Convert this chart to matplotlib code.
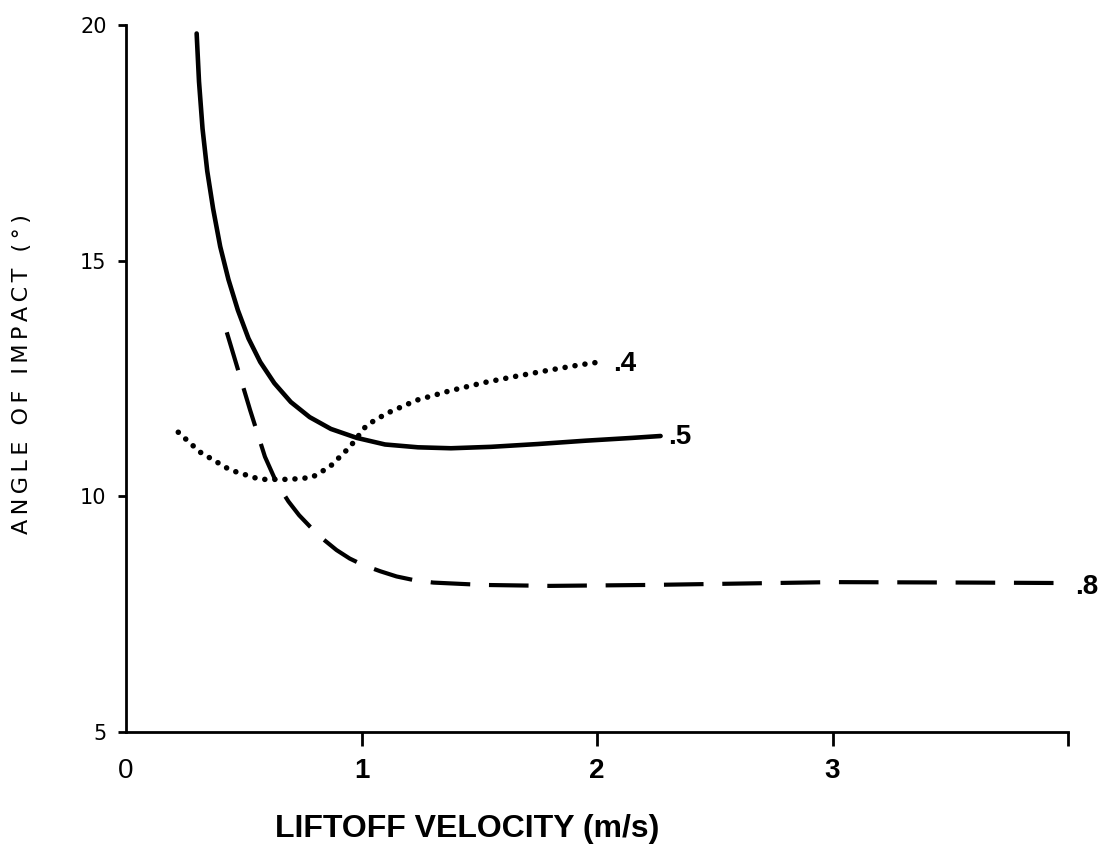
import matplotlib
matplotlib.use("Agg")
import matplotlib.pyplot as plt

# curve readings (liftoff velocity m/s, angle of impact deg)
x_05 = [0.300, 0.310, 0.325, 0.345, 0.370, 0.400, 0.435, 0.475, 0.52, 0.57, 0.63, 0.70, 0.78,
        0.87, 0.98, 1.10, 1.24, 1.38, 1.55, 1.75, 1.95, 2.15, 2.27]
y_05 = [19.82, 18.8, 17.8, 16.9, 16.1, 15.3, 14.6, 13.95, 13.35, 12.85, 12.4, 12.0, 11.68,
        11.43, 11.24, 11.1, 11.04, 11.02, 11.05, 11.11, 11.18, 11.24, 11.28]

x_04 = [0.222, 0.314, 0.442, 0.569, 0.696, 0.789, 0.866, 0.951, 1.022, 1.107, 1.234, 1.376,
        1.517, 1.659, 1.80, 1.928, 2.025]
y_04 = [11.36, 10.94, 10.56, 10.36, 10.36, 10.40, 10.63, 11.05, 11.51, 11.76, 12.04, 12.24,
        12.41, 12.55, 12.68, 12.79, 12.86]

x_08 = [0.428, 0.527, 0.59, 0.64, 0.69, 0.735, 0.781, 0.84, 0.894, 0.95, 1.008, 1.08, 1.149,
        1.225, 1.305, 1.517, 1.80, 2.225, 3.0, 3.6, 4.0]
y_08 = [13.48, 11.83, 10.84, 10.28, 9.89, 9.6, 9.36, 9.08, 8.86, 8.68, 8.54, 8.41, 8.30,
        8.22, 8.17, 8.12, 8.10, 8.12, 8.18, 8.17, 8.16]

curve_labels = [".4", ".5", ".8"]
label_x = [2.07, 2.30, 4.03]
label_y = [12.81, 11.26, 8.08]

x_ticks = [0, 1, 2, 3, 4]
x_ticklabels = ["0", "1", "2", "3", ""]
y_ticks = [5, 10, 15, 20]

fig = plt.figure(figsize=(11.07, 8.5), dpi=100)
ax = fig.add_axes([126 / 1107, 118 / 850, 942 / 1107, 707 / 850])

ax.plot(x_05, y_05, color="black", lw=3.3, solid_capstyle="round", solid_joinstyle="round")
ax.plot(x_04, y_04, color="black", lw=4.0, linestyle=(0, (0.01, 1.8)), dash_capstyle="round")
ax.plot(x_08, y_08, color="black", lw=3.0, linestyle=(0, (9.5, 4.5)), dash_capstyle="butt")

for txt, lx, ly in zip(curve_labels, label_x, label_y):
    ax.text(lx, ly, txt, fontsize=20, fontweight="bold", family="Liberation Sans",
            ha="left", va="center", clip_on=False)

ax.set_xlim(0, 4)
ax.set_ylim(5, 20)

for side in ["top", "right"]:
    ax.spines[side].set_visible(False)
for side in ["left", "bottom"]:
    ax.spines[side].set_linewidth(2.0)

ax.set_xticks(x_ticks)
ax.set_xticklabels(x_ticklabels)
ax.set_yticks(y_ticks)
ax.tick_params(axis="x", direction="out", length=10, width=2.0, pad=9)
ax.tick_params(axis="y", direction="out", length=6, width=2.0, pad=8, labelsize=15)
ax.xaxis.get_major_ticks()[0].tick1line.set_visible(False)

for i, lab in enumerate(ax.get_xticklabels()):
    lab.set_family(["Liberation Sans Narrow", "Liberation Sans"])
    lab.set_fontsize(20)
    lab.set_fontweight("normal" if i == 0 else "bold")

ylab = "\u2009".join("ANGLE OF IMPACT (\u00b0)")
fig.text(22 / 1107, 1 - 374 / 850, ylab, rotation=90, fontsize=16,
         ha="center", va="center")
fig.text(467 / 1107, 1 - 829 / 850, "LIFTOFF VELOCITY (m/s)", fontsize=23,
         fontweight="bold", family=["Liberation Sans Narrow", "Liberation Sans"],
         ha="center", va="center")

fig.savefig("out.png", dpi=100, facecolor="white")
